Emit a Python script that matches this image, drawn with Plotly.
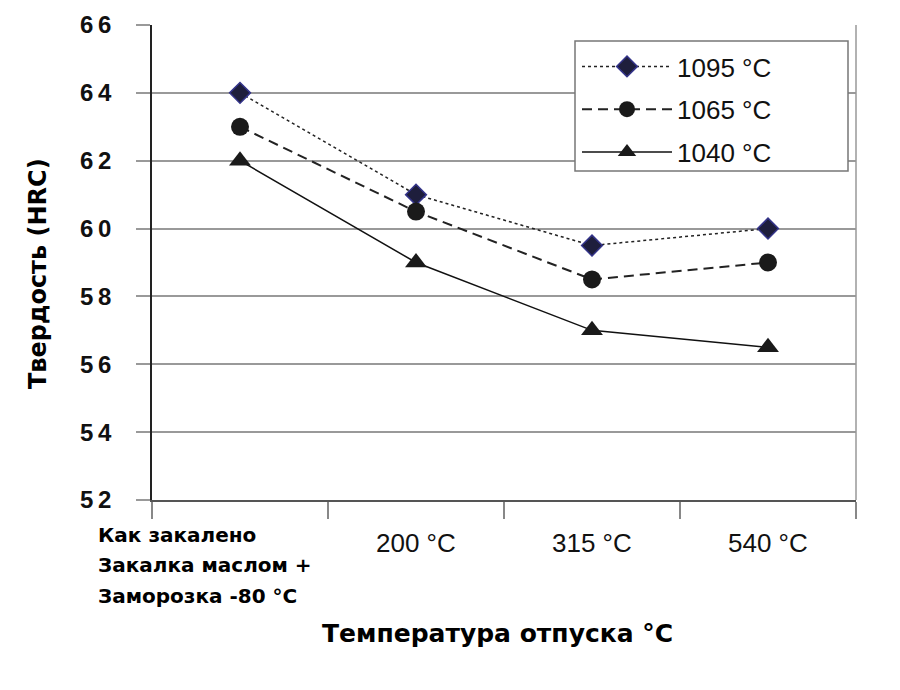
import plotly.graph_objects as go

categories = ["Как закалено", "200 °C", "315 °C", "540 °C"]
first_label_lines = ["Как закалено", "Закалка маслом +", "Заморозка -80 °C"]
series_names = ["1095 °C", "1065 °C", "1040 °C"]
hrc_1095 = [64, 61, 59.5, 60]
hrc_1065 = [63, 60.5, 58.5, 59]
hrc_1040 = [62, 59, 57, 56.5]
y_ticks = [52, 54, 56, 58, 60, 62, 64, 66]
y_title = "Твердость (HRC)"
x_title = "Температура отпуска °C"

xpos = list(range(len(categories)))

fig = go.Figure()
fig.add_trace(go.Scatter(
    x=xpos, y=hrc_1095, name=series_names[0], mode="lines+markers",
    line=dict(color="#222222", width=1.5, dash="dot"),
    marker=dict(symbol="diamond", size=16, color="#1e1e3c",
                line=dict(color="#34348a", width=1.5)),
    legendgroup="a"))
fig.add_trace(go.Scatter(
    x=xpos, y=hrc_1065, name=series_names[1], mode="lines+markers",
    line=dict(color="#222222", width=2, dash="10px,6px"),
    marker=dict(symbol="circle", size=18, color="#1a1a1a"),
    legendgroup="b"))
fig.add_trace(go.Scatter(
    x=xpos, y=hrc_1040, name=series_names[2], mode="lines+markers",
    line=dict(color="#111111", width=1.5),
    marker=dict(symbol="triangle-up", size=19, color="#1a1a1a"),
    legendgroup="c"))

OFF = 8  # page body margin
W, H = 900 - OFF, 690 - OFF
L, T = 152 - OFF, 25 - OFF
R = W - (856 - OFF)
B = H - (500 - OFF)
pw, ph = W - L - R, H - T - B

BOLD = "DejaVu Sans, Verdana, sans-serif"
REG = "Liberation Sans, Arial, sans-serif"

annotations = []
for i, lab in enumerate(categories):
    if i == 0:
        continue
    annotations.append(dict(
        x=xpos[i], xref="x", y=-(543 - 500) / ph, yref="paper",
        text=lab, showarrow=False, xanchor="center", yanchor="middle",
        font=dict(family=REG, size=26, color="#111111")))
line_y = [535, 565, 596]
for txt, yy in zip(first_label_lines, line_y):
    annotations.append(dict(
        x=(96 - 152) / pw, xref="paper", y=-(yy - 500) / ph, yref="paper",
        text=txt, showarrow=False, xanchor="left", yanchor="middle",
        font=dict(family=BOLD, size=20, color="#000000", weight="bold")))
annotations.append(dict(
    x=(497 - 152) / pw, xref="paper", y=-(633 - 500) / ph, yref="paper",
    text=x_title, showarrow=False, xanchor="center", yanchor="middle",
    font=dict(family=BOLD, size=25, color="#000000", weight="bold")))
annotations.append(dict(
    x=(38 - 152) / pw, xref="paper", y=(500 - 274) / ph, yref="paper",
    text=y_title, showarrow=False, xanchor="center", yanchor="middle", textangle=-90,
    font=dict(family=BOLD, size=24, color="#000000", weight="bold")))

legend_box = dict(type="rect", xref="paper", yref="paper", layer="above",
                  x0=(575 - 152) / pw, x1=(848 - 152) / pw,
                  y0=(500 - 171) / ph, y1=(500 - 41) / ph,
                  fillcolor="white", line=dict(color="#777777", width=1.5))
right_border = dict(type="line", xref="paper", yref="paper", x0=1, x1=1, y0=0, y1=1,
                    line=dict(color="#999999", width=1.5))

fig.update_layout(
    width=W, height=H,
    margin=dict(l=L, r=R, t=T, b=B, autoexpand=False),
    paper_bgcolor="white", plot_bgcolor="white",
    showlegend=True,
    legend=dict(
        x=(577 - 152) / pw, y=(500 - 43) / ph, xanchor="left", yanchor="top",
        bgcolor="rgba(0,0,0,0)", borderwidth=0,
        font=dict(family=REG, size=26, color="#111111"),
        tracegroupgap=6, itemwidth=90),
    annotations=annotations,
    shapes=[right_border, legend_box],
)
fig.update_xaxes(
    range=[-0.5, 3.5], tickvals=[-0.5, 0.5, 1.5, 2.5, 3.5],
    ticktext=["", "", "", "", ""], ticks="outside", ticklen=17,
    tickcolor="#888888", tickwidth=1.5,
    showgrid=False, zeroline=False,
    showline=True, linecolor="#555555", linewidth=1.5)
fig.update_yaxes(
    range=[52, 66], tickvals=y_ticks,
    ticktext=["\u2009".join(str(v)) for v in y_ticks],
    ticks="outside", ticklen=14, tickcolor="#999999", tickwidth=1.5,
    ticklabelstandoff=20,
    showgrid=True, gridcolor="#999999", gridwidth=1.5, zeroline=False,
    showline=True, linecolor="#222222", linewidth=1.5,
    tickfont=dict(family="Liberation Sans Narrow, Arial Narrow, Liberation Sans, sans-serif",
                  size=24, color="#111111", weight="bold"))

fig.write_html("out.html")
